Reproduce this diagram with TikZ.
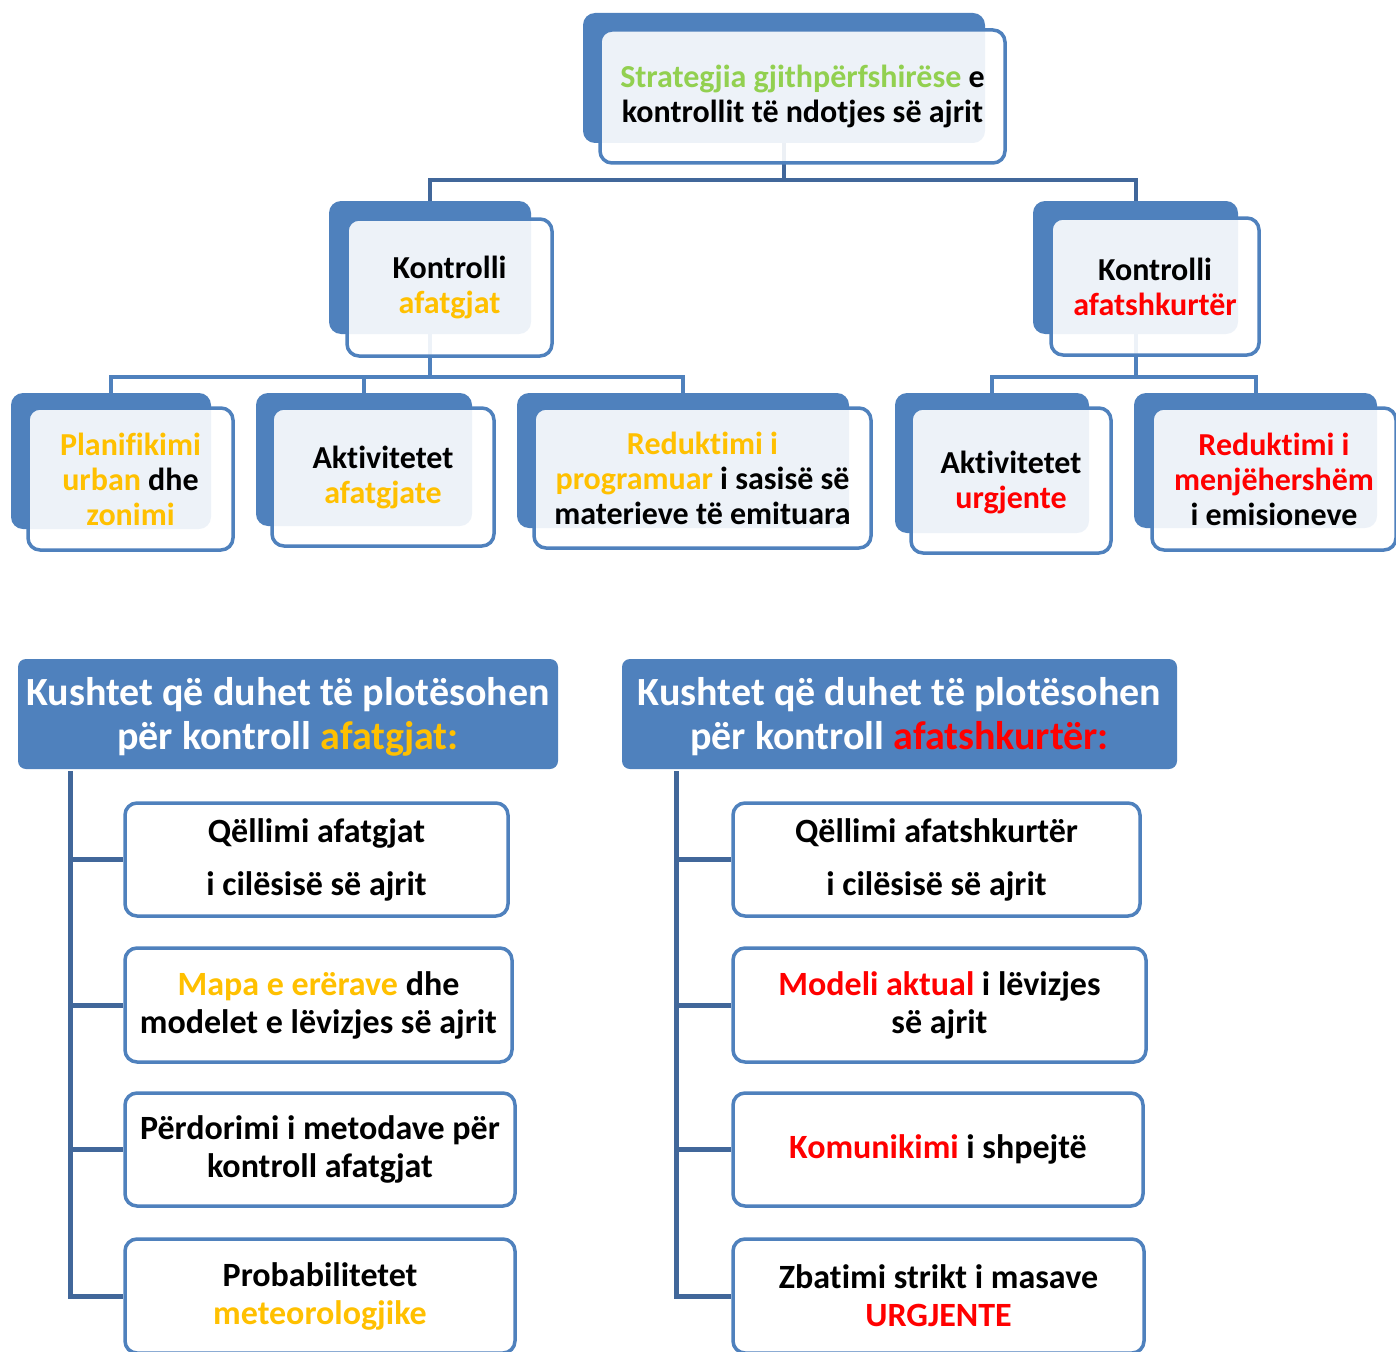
\documentclass[tikz,border=0pt]{standalone}
\usepackage{fontspec}
\setmainfont{Carlito}[Ligatures=NoCommon]
\definecolor{boxblue}{HTML}{4F81BD}
\definecolor{lineblue}{HTML}{41679A}
\definecolor{cyellow}{HTML}{FFC000}
\definecolor{cred}{HTML}{FF0000}
\definecolor{cgreen}{HTML}{92D050}
\begin{document}
\begin{tikzpicture}[x=1pt,y=-1pt,
  back/.style={fill=boxblue, rounded corners=12pt, inner sep=0pt},
  front/.style={draw=boxblue, line width=3.5pt, fill=white, fill opacity=0.9, text opacity=1,
    rounded corners=12pt, align=center, inner sep=0pt,
    font=\fontsize{32}{35}\selectfont\bfseries},
  head/.style={fill=boxblue, rounded corners=8pt, align=center, inner sep=0pt, text=white,
    font=\fontsize{40}{44}\selectfont\bfseries},
  headtext/.style={align=center, inner sep=0pt, text=white,
    font=\fontsize{40}{44}\selectfont\bfseries},
  cond/.style={draw=boxblue, line width=3.5pt, fill=white, rounded corners=12pt, align=center,
    inner sep=0pt, font=\fontsize{34}{38}\selectfont\bfseries},
  topconn/.style={draw=lineblue, line width=4pt},
  subconn/.style={draw=boxblue, line width=4pt},
  vconn/.style={draw=lineblue, line width=5pt}
]
\path[use as bounding box] (0,0) rectangle (1396,1351);
\clip (0,0) rectangle (1396,1351);

% back boxes
\node[back, minimum width=402, minimum height=130] (Tb) at (784,78) {};
\node[back, minimum width=202, minimum height=133] (Lb) at (430,267.5) {};
\node[back, minimum width=205, minimum height=133] (Rb) at (1135.5,267.5) {};
\node[back, minimum width=200, minimum height=136] (A1b) at (111,461) {};
\node[back, minimum width=216, minimum height=133] (A2b) at (364,459.5) {};
\node[back, minimum width=332, minimum height=135] (A3b) at (683,460.5) {};
\node[back, minimum width=194, minimum height=140] (B1b) at (992,463) {};
\node[back, minimum width=243, minimum height=135] (B2b) at (1255.5,460.5) {};

% connectors
\draw[topconn] (Tb.south) -- ++(0,37) -| (Lb.north);
\draw[topconn] (Tb.south) -- ++(0,37) -| (Rb.north);
\draw[subconn] (Lb.south) -- ++(0,43) -| (A1b.north);
\draw[subconn] (Lb.south) -- ++(0,43) -| (A2b.north);
\draw[subconn] (Lb.south) -- ++(0,43) -| (A3b.north);
\draw[subconn] (Rb.south) -- ++(0,43) -| (B1b.north);
\draw[subconn] (Rb.south) -- ++(0,43) -| (B2b.north);

% front boxes
\node[front, minimum width=405, minimum height=133] (T) at (802.5,96.5)
  {\textcolor{cgreen}{Strategjia gjithpërfshirëse} e\\kontrollit të ndotjes së ajrit};
\node[front, minimum width=205, minimum height=137] (L) at (449.5,287.5)
  {Kontrolli\\\textcolor{cyellow}{afatgjat}};
\node[front, minimum width=208, minimum height=137] (R) at (1155,286.5)
  {Kontrolli\\\textcolor{cred}{afatshkurtër}};
\node[front, minimum width=205, minimum height=142] (A1) at (130.5,479)
  {\textcolor{cyellow}{Planifikimi}\\\textcolor{cyellow}{urban} dhe\\\textcolor{cyellow}{zonimi}};
\node[front, minimum width=222, minimum height=138] (A2) at (383,477)
  {Aktivitetet\\\textcolor{cyellow}{afatgjate}};
\node[front, minimum width=337, minimum height=140] (A3) at (702.5,478)
  {\textcolor{cyellow}{Reduktimi i}\\\textcolor{cyellow}{programuar} i sasisë së\\materieve të emituara};
\node[front, minimum width=200, minimum height=145] (B1) at (1011,480.5) {};
\node[align=center, inner sep=0pt, font=\fontsize{32}{35}\selectfont\bfseries] (B1t) at (1011,482.5)
  {Aktivitetet\\\textcolor{cred}{urgjente}};
\node[front, minimum width=244, minimum height=142] (B2) at (1274,479)
  {\textcolor{cred}{Reduktimi i}\\\textcolor{cred}{menjëhershëm}\\i emisioneve};

% headers
\node[head, minimum width=540, minimum height=110] (LH) at (288,714) {};
\node[headtext] (LHt) at (288,717)
  {Kushtet që duhet të plotësohen\\për kontroll \textcolor{cyellow}{afatgjat:}};
\node[head, minimum width=555, minimum height=110] (RH) at (899.5,714) {};
\node[headtext] (RHt) at (899.5,717)
  {Kushtet që duhet të plotësohen\\për kontroll \textcolor{cred}{afatshkurtër:}};

% condition boxes left
\node[cond, minimum width=383, minimum height=113] (L1) at (316.5,859.5)
  {Qëllimi afatgjat\\[15pt]i cilësisë së ajrit};
\node[cond, minimum width=387, minimum height=114] (L2) at (318.5,1005)
  {\textcolor{cyellow}{Mapa e erërave} dhe\\modelet e lëvizjes së ajrit};
\node[cond, minimum width=390, minimum height=113] (L3) at (320,1149.5)
  {Përdorimi i metodave për\\kontroll afatgjat};
\node[cond, minimum width=390, minimum height=114] (L4) at (320,1296)
  {Probabilitetet\\\textcolor{cyellow}{meteorologjike}};

% condition boxes right
\node[cond, minimum width=407, minimum height=113] (R1) at (936.5,859.5)
  {Qëllimi afatshkurtër\\[15pt]i cilësisë së ajrit};
\node[cond, minimum width=413, minimum height=114] (R2) at (939.5,1005)
  {\textcolor{cred}{Modeli aktual} i lëvizjes\\së ajrit};
\node[cond, minimum width=410, minimum height=113] (R3) at (938,1149.5)
  {\textcolor{cred}{Komunikimi} i shpejtë};
\node[cond, minimum width=411, minimum height=114] (R4) at (938.5,1296)
  {Zbatimi strikt i masave\\\textcolor{cred}{URGJENTE}};

% left tree lines
\coordinate (lv) at (70,771);
\draw[vconn] (lv) |- (L4.west);
\draw[vconn] (lv |- L1.west) -- (L1.west);
\draw[vconn] (lv |- L2.west) -- (L2.west);
\draw[vconn] (lv |- L3.west) -- (L3.west);

% right tree lines
\coordinate (rv) at (676,771);
\draw[vconn] (rv) |- (R4.west);
\draw[vconn] (rv |- R1.west) -- (R1.west);
\draw[vconn] (rv |- R2.west) -- (R2.west);
\draw[vconn] (rv |- R3.west) -- (R3.west);
\end{tikzpicture}
\end{document}
